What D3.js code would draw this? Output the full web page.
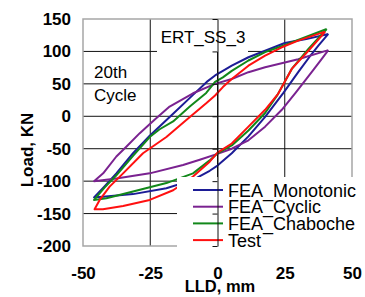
<!DOCTYPE html>
<html>
<head>
<meta charset="utf-8">
<script src="https://cdn.jsdelivr.net/npm/d3@7"></script>
<style>
  body { margin: 0; background: #fff; }
  svg { display: block; font-family: "Liberation Sans", Arial, sans-serif; }
</style>
</head>
<body>
<div id="chart"></div>
<script>
// tick values
var xTicks = [-50, -25, 0, 25, 50];
var yTicks = [-200, -150, -100, -50, 0, 50, 100, 150];

// loops: right tip -> upper branch -> left tip -> lower branch -> right tip
var monoX = [41.2, 33, 25, 17.7, 11.5, 5.3, 2, -0.9, -4, -9.1, -16.5, -25.2, -31.4, -37.6, -42, -45.9,
             -42.6, -31.4, -19, -9.1, -2.9, 0, 5.3, 11.5, 17.7, 24.5, 30, 35, 37.5, 41.2];
var monoY = [127, 119, 113, 101, 91, 78, 70, 63, 53, 33, 4, -30, -57, -88, -108, -125,
             -124, -120, -111, -98, -84, -76, -57, -31, -1, 36, 68, 96, 109, 127];

var cycX = [41.2, 30, 17.7, 11.5, 5.3, -0.9, -9.1, -17.8, -23.3, -28.9, -33.9, -37.6, -42.5, -45.9,
            -37.6, -25.2, -12.8, -6.6, 0, 5.3, 11.5, 17.7, 23.9, 29, 35, 38.7, 41.2];
var cycY = [102, 88, 75.5, 68, 57.5, 50, 35.5, 15, -5, -26, -47, -62, -88, -100,
            -96, -88, -75, -67, -58, -50, -37, -16, 10, 36, 68, 88, 102];

var chabX = [40.6, 25.1, 17.7, 11.5, 5.3, 2, -0.9, -4.2, -10.3, -16.5, -21.5, -25.2, -31.4, -37.6, -42, -45.9,
             -41.3, -31.4, -19, -9.1, -2.9, 0, 5.3, 11.5, 17.7, 22.3, 27.6, 33.8, 40.6];
var chabY = [134.6, 110, 99, 86, 70, 60, 53, 36, 15, -8, -20, -32, -61, -91, -110, -129,
             -126.5, -116, -103, -88, -68, -57, -45, -22, 5, 33, 73, 104, 134.6];

var testX = [40, 30, 23.9, 17.7, 11.5, 5.3, 2, -0.9, -4.2, -11.6, -19, -27.7, -35.1, -40.1, -43.8, -45.7,
             -42.6, -35.1, -25.2, -16.5, -9.1, -2.9, 0, 5.3, 11.5, 17.7, 22.6, 27.6, 33.8, 38.7, 40];
var testY = [130.5, 116.6, 106.4, 93.4, 78, 57.5, 45, 32, 20, -5.7, -32, -57, -88, -108.5, -129, -143.4,
             -143.4, -138.3, -129, -114, -93, -70, -56, -42, -16, 10, 35, 73, 101, 124, 130.5];

var seriesNames = ["FEA_Monotonic", "FEA_Cyclic", "FEA_Chaboche", "Test"];
var seriesColors = ["#1c1c96", "#7a2290", "#12881a", "#ff1010"];

var series = [
  {name: seriesNames[0], color: seriesColors[0], xs: monoX, ys: monoY},
  {name: seriesNames[1], color: seriesColors[1], xs: cycX, ys: cycY},
  {name: seriesNames[2], color: seriesColors[2], xs: chabX, ys: chabY},
  {name: seriesNames[3], color: seriesColors[3], xs: testX, ys: testY}
];

var W = 365, H = 297;
var plot = {left: 83, right: 352, top: 19, bottom: 246};

var svg = d3.select("#chart")
  .append("svg")
    .attr("width", W)
    .attr("height", H);

var x = d3.scaleLinear().domain([-50, 50]).range([plot.left, plot.right]);
var y = d3.scaleLinear().domain([-200, 150]).range([plot.bottom, plot.top]);

// gridlines
svg.append("g")
  .selectAll("line")
  .data(yTicks.filter(function(d) { return d > -200 && d < 150; }))
  .enter().append("line")
    .attr("x1", plot.left)
    .attr("x2", plot.right)
    .attr("y1", function(d) { return y(d); })
    .attr("y2", function(d) { return y(d); })
    .attr("stroke", "#111")
    .attr("stroke-width", 1);

svg.append("g")
  .selectAll("line")
  .data(xTicks.filter(function(d) { return d > -50 && d < 50; }))
  .enter().append("line")
    .attr("x1", function(d) { return x(d); })
    .attr("x2", function(d) { return x(d); })
    .attr("y1", plot.top)
    .attr("y2", plot.bottom)
    .attr("stroke", "#111")
    .attr("stroke-width", 1);

// plot border
svg.append("rect")
    .attr("x", plot.left)
    .attr("y", plot.top)
    .attr("width", plot.right - plot.left)
    .attr("height", plot.bottom - plot.top)
    .attr("fill", "none")
    .attr("stroke", "#a6a6a6")
    .attr("stroke-width", 1.5);

// curves
var line = d3.line()
    .x(function(d) { return x(d[0]); })
    .y(function(d) { return y(d[1]); });

svg.append("g")
  .selectAll("path")
  .data(series)
  .enter().append("path")
    .attr("d", function(s) { return line(d3.zip(s.xs, s.ys)); })
    .attr("fill", "none")
    .attr("stroke", function(s) { return s.color; })
    .attr("stroke-width", 2)
    .attr("stroke-linejoin", "round");

// title box
svg.append("rect")
    .attr("x", 157)
    .attr("y", 20)
    .attr("width", 91)
    .attr("height", 32)
    .attr("fill", "#fff");

svg.append("text")
    .attr("x", 203)
    .attr("y", 43)
    .attr("text-anchor", "middle")
    .style("font-size", "17px")
    .text("ERT_SS_3");

svg.append("text")
    .attr("x", 94)
    .attr("y", 78)
    .style("font-size", "17px")
    .text("20th");

svg.append("text")
    .attr("x", 94)
    .attr("y", 101)
    .style("font-size", "17px")
    .text("Cycle");

// legend
var leg = svg.append("g");
leg.append("rect")
    .attr("x", 177)
    .attr("y", 177)
    .attr("width", W - 177)
    .attr("height", H - 177 - 40)
    .attr("fill", "#fff");

var legRows = leg.selectAll("g")
  .data(series)
  .enter().append("g")
    .attr("transform", function(d, i) { return "translate(0," + (190 + i * 16.7) + ")"; });

legRows.append("line")
    .attr("x1", 193)
    .attr("x2", 223)
    .attr("stroke", function(d) { return d.color; })
    .attr("stroke-width", 2);

legRows.append("text")
    .attr("x", 228)
    .attr("y", 6.5)
    .style("font-size", "18px")
    .text(function(d) { return d.name; });

// vertical axis through x = 0, drawn over the legend
var zeroAxis = svg.append("g")
    .attr("transform", "translate(" + x(0) + ",0)")
    .call(d3.axisLeft(y).tickValues(yTicks).tickSize(5).tickSizeOuter(0).tickFormat(""));
zeroAxis.selectAll("path, line").attr("stroke", "#111");

// tick labels (plain hyphen minus like the original)
var fmt = function(d) { return String(d); };

var yAxis = svg.append("g")
    .attr("transform", "translate(" + plot.left + ",0)")
    .call(d3.axisLeft(y).tickValues(yTicks).tickSize(0).tickPadding(12).tickFormat(fmt));
yAxis.select(".domain").remove();
yAxis.selectAll("text")
    .style("font-size", "17px")
    .style("font-weight", "bold")
    .style("font-family", "'Liberation Sans', Arial, sans-serif")
    .attr("fill", "#000");

var xAxis = svg.append("g")
    .attr("transform", "translate(0," + plot.bottom + ")")
    .call(d3.axisBottom(x).tickValues(xTicks).tickSize(0).tickPadding(21).tickFormat(fmt));
xAxis.select(".domain").remove();
xAxis.selectAll("text")
    .style("font-size", "17px")
    .style("font-weight", "bold")
    .style("font-family", "'Liberation Sans', Arial, sans-serif")
    .attr("fill", "#000");

// axis titles
svg.append("text")
    .attr("x", 220)
    .attr("y", 292)
    .attr("text-anchor", "middle")
    .style("font-size", "16.5px")
    .style("font-weight", "bold")
    .text("LLD, mm");

svg.append("text")
    .attr("transform", "translate(33,150) rotate(-90)")
    .attr("text-anchor", "middle")
    .style("font-size", "17px")
    .style("font-weight", "bold")
    .text("Load, KN");
</script>
</body>
</html>
